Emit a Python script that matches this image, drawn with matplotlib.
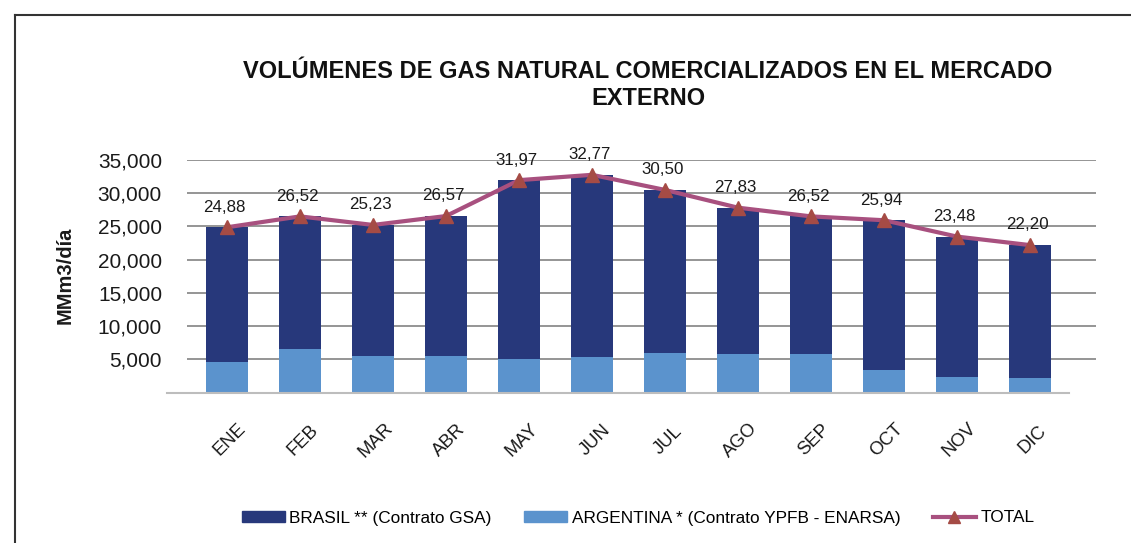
import matplotlib
matplotlib.use("Agg")
import matplotlib.pyplot as plt
from matplotlib.patches import Patch
from matplotlib.lines import Line2D
import numpy as np

plt.rcParams['font.family'] = ['Liberation Sans', 'DejaVu Sans']

months = ["ENE", "FEB", "MAR", "ABR", "MAY", "JUN", "JUL", "AGO", "SEP", "OCT", "NOV", "DIC"]
total = [24880, 26520, 25230, 26570, 31970, 32770, 30500, 27830, 26520, 25940, 23480, 22200]
argentina = [4600, 6500, 5450, 5450, 5000, 5300, 5900, 5750, 5750, 3350, 2300, 2150]
brasil = [t - a for t, a in zip(total, argentina)]
total_labels = ["24,88", "26,52", "25,23", "26,57", "31,97", "32,77", "30,50", "27,83",
                "26,52", "25,94", "23,48", "22,20"]
yticks = [5000, 10000, 15000, 20000, 25000, 30000, 35000]
ytick_labels = ["5,000", "10,000", "15,000", "20,000", "25,000", "30,000", "35,000"]

W, H = 1131, 543
fig = plt.figure(figsize=(W / 100, H / 100), dpi=100)
fig.patch.set_facecolor("white")

left, right, top, bottom = 187, 1096, 160, 392.7
ax = fig.add_axes([left / W, 1 - bottom / H, (right - left) / W, (bottom - top) / H])

x = np.arange(len(months))
c_bra = "#27387B"
c_arg = "#5B93CD"
c_line = "#A8507F"
c_mark = "#A54B45"

ax.set_axisbelow(True)
ax.yaxis.grid(True, color="#8C8C8C", linewidth=1.3)
ax.bar(x, argentina, width=0.57, color=c_arg, zorder=2)
ax.bar(x, brasil, width=0.57, bottom=argentina, color=c_bra, zorder=2)
ax.plot(x, total, color=c_line, linewidth=3.0, marker="^", markersize=10.5,
        markerfacecolor=c_mark, markeredgecolor=c_mark, zorder=4)
for xi, t, lab in zip(x, total, total_labels):
    ax.annotate(lab, (xi, t), xytext=(-2, 14.5), textcoords="offset points",
                ha="center", va="center", fontsize=12.2, color="#1a1a1a", zorder=5)

ax.set_xlim((left - 227) / 73.0, (right - 227) / 73.0)
ax.set_ylim(0, 35000)
ax.set_yticks(yticks)
ax.set_yticklabels(ytick_labels, fontsize=15, color="#1a1a1a")
ax.tick_params(axis="y", length=0, pad=18)
ax.set_xticks([])
for s in ax.spines.values():
    s.set_visible(False)
ax.plot([(167 - 227) / 73.0, (1069 - 227) / 73.0], [0, 0], color="#BDBDBD",
        linewidth=1.5, clip_on=False, zorder=3)

for xi, m in zip(x, months):
    ax.annotate(m, (xi, 0), xycoords=("data", "axes fraction"),
                xytext=(2, -34), textcoords="offset points",
                rotation=45, ha="center", va="center", fontsize=13.3, color="#1a1a1a")

fig.text(65 / W, 1 - 275 / H, "MMm3/día", rotation=90, ha="center", va="center",
         fontsize=14.5, fontweight="bold", color="#1a1a1a")

fig.text(648 / W, 1 - 85 / H,
         "VOLÚMENES DE GAS NATURAL COMERCIALIZADOS EN EL MERCADO\nEXTERNO",
         ha="center", va="center", fontsize=17, fontweight="bold",
         multialignment="center", linespacing=1.25, color="#111111")

handles = [Patch(facecolor=c_bra, edgecolor=c_bra),
           Patch(facecolor=c_arg, edgecolor=c_arg),
           Line2D([0], [0], color=c_line, linewidth=3, marker="^", markersize=9,
                  markerfacecolor=c_mark, markeredgecolor=c_mark)]
labels = ["BRASIL ** (Contrato GSA)", "ARGENTINA * (Contrato YPFB - ENARSA)", "TOTAL"]
fig.legend(handles, labels, loc="center", bbox_to_anchor=(638 / W, 1 - 518 / H),
           ncol=3, frameon=False, fontsize=12.4, handlelength=2.5, handleheight=0.55,
           handletextpad=0.25, columnspacing=1.9)

# frame
fig.add_artist(Line2D([15 / W, 1], [1 - 15 / H, 1 - 15 / H], color="#333333",
                      linewidth=1.5, transform=fig.transFigure))
fig.add_artist(Line2D([15 / W, 15 / W], [1 - 15 / H, 0], color="#333333",
                      linewidth=1.5, transform=fig.transFigure))

fig.savefig("out.png", dpi=100, facecolor="white")
